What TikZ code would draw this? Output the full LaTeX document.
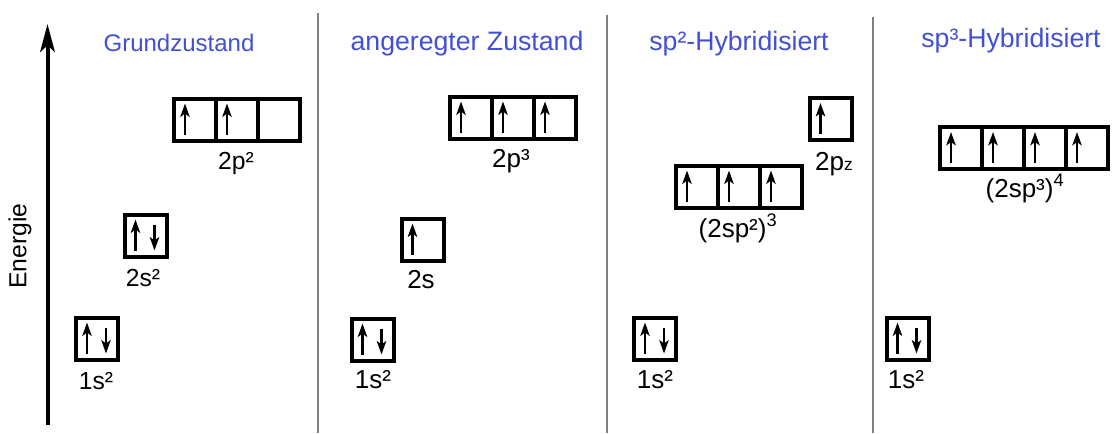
\documentclass[tikz,border=0pt]{standalone}
\usepackage{fontspec}
\setmainfont{Liberation Sans}
\usetikzlibrary{arrows.meta,calc}
\definecolor{titleblue}{RGB}{66,80,214}
\definecolor{rulegray}{RGB}{128,128,128}

% one spin arrow inside an orbital cell: #1 = cell name, #2 = x offset from the left edge
\newcommand\spinup[2]{\draw[spin] ($(#1.south west)+(#2,-6)$) -- ($(#1.north west)+(#2,5)$);}
\newcommand\spindown[2]{\draw[spin] ($(#1.north west)+(#2,10)$) -- ($(#1.south west)+(#2,-6)$);}

\tikzset{
  cell/.style={draw, line width=3pt, minimum width=31.5pt, minimum height=31.5pt,
               inner sep=0pt, outer sep=0pt},
  lbl/.style={anchor=base, font=\fontsize{19.5}{22}\selectfont, inner sep=0pt},
  lblsmall/.style={lbl, font=\fontsize{18.5}{21}\selectfont},
  title/.style={lbl, font=\fontsize{20}{23}\selectfont, text=titleblue},
  spin/.style={line width=1.9pt, -{Stealth[length=10pt,width=7pt,inset=2.5pt]}},
  divider/.style={draw=rulegray, line width=1.1pt},
  axis/.style={line width=3pt, -{Stealth[length=21pt,width=11pt,inset=5pt]}},
}

\begin{document}
\begin{tikzpicture}[x=0.75pt, y=-0.75pt]
\fill[white] (0,0) rectangle (1112,433);
\useasboundingbox (0,0) rectangle (1112,433);

% energy axis
\coordinate (ebot) at (47.5,425);
\coordinate (etop) at (47.5,24);
\draw[axis] (ebot) -- (etop);
\node[lbl, font=\fontsize{18.5}{21}\selectfont, anchor=center, rotate=90] (energie) at (20,246) {Energie};

% column separators
\coordinate (d1t) at (318,13);  \coordinate (d1b) at (318,433);
\coordinate (d2t) at (607,15);  \coordinate (d2b) at (607,433);
\coordinate (d3t) at (873,17);  \coordinate (d3b) at (873,433);
\draw[divider] (d1t) -- (d1b);
\draw[divider] (d2t) -- (d2b);
\draw[divider] (d3t) -- (d3b);

% titles
\node[title, font=\fontsize{18}{21}\selectfont] (t1) at (179,51) {Grundzustand};
\node[title] (t2) at (467,50) {angeregter Zustand};
\node[title] (t3) at (739,50) {sp²-Hybridisiert};
\node[title] (t4) at (1011,47) {sp³-Hybridisiert};

% ---- ground state ----
\node[cell] (g1s) at (97,338.5) {};
\node[cell] (g2s) at (145.5,235.5) {};
\node[cell] (g2pa) at (195,119.5) {};
\node[cell] (g2pb) at (237,119.5) {};
\node[cell] (g2pc) at (279,119.5) {};
\spinup{g1s}{11} \spindown{g1s}{30}
\spinup{g2s}{11} \spindown{g2s}{30}
\spinup{g2pa}{11} \spinup{g2pb}{11}
\node[lblsmall] (lg1s) at (96,389) {1s²};
\node[lblsmall] (lg2s) at (143,286) {2s²};
\node[lblsmall] (lg2p) at (236,169) {2p²};

% ---- excited state ----
\node[cell] (e1s) at (372.5,339.5) {};
\node[cell] (e2s) at (422.5,239.5) {};
\node[cell] (e2pa) at (471,117.5) {};
\node[cell] (e2pb) at (513,117.5) {};
\node[cell] (e2pc) at (555,117.5) {};
\spinup{e1s}{11} \spindown{e1s}{30}
\spinup{e2s}{11}
\spinup{e2pa}{11} \spinup{e2pb}{11} \spinup{e2pc}{11}
\node[lbl] (le1s) at (373,388) {1s²};
\node[lbl] (le2s) at (421,288) {2s};
\node[lbl] (le2p) at (511,167) {2p³};

% ---- sp2 ----
\node[cell] (h1s) at (655,338.5) {};
\node[cell] (hspa) at (697,186.5) {};
\node[cell] (hspb) at (739,186.5) {};
\node[cell] (hspc) at (781,186.5) {};
\node[cell] (hpz) at (830.5,119) {};
\spinup{h1s}{11} \spindown{h1s}{30}
\spinup{hspa}{11} \spinup{hspb}{11} \spinup{hspc}{11}
\spinup{hpz}{11}
\node[lbl] (lh1s) at (655,388) {1s²};
\node[lbl] (lhsp) at (738,237) {(2sp²)\textsuperscript{3}};
\node[lbl] (lhpz) at (834,170) {2p{\fontsize{13}{13}\selectfont z}};

% ---- sp3 ----
\node[cell] (q1s) at (907.5,338.5) {};
\node[cell] (qspa) at (961,148) {};
\node[cell] (qspb) at (1003,148) {};
\node[cell] (qspc) at (1045,148) {};
\node[cell] (qspd) at (1087,148) {};
\spinup{q1s}{11} \spindown{q1s}{30}
\spinup{qspa}{11} \spinup{qspb}{11} \spinup{qspc}{11} \spinup{qspd}{11}
\node[lbl] (lq1s) at (906,388) {1s²};
\node[lbl] (lqsp) at (1025,197) {(2sp³)\textsuperscript{4}};
\end{tikzpicture}
\end{document}
